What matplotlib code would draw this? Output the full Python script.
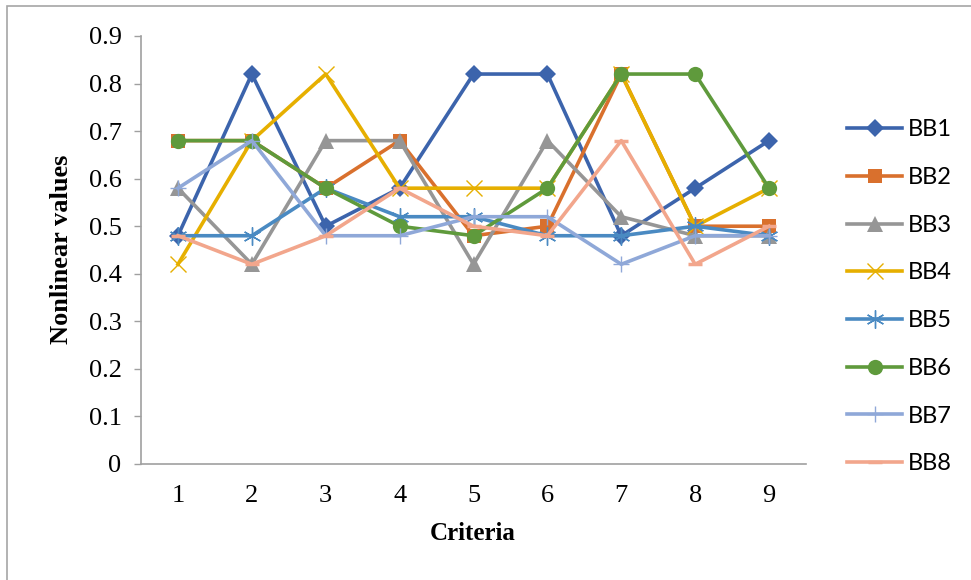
import matplotlib
matplotlib.use("Agg")
import matplotlib.pyplot as plt
from matplotlib.patches import Rectangle

criteria = [1, 2, 3, 4, 5, 6, 7, 8, 9]
series_names = ["BB1", "BB2", "BB3", "BB4", "BB5", "BB6", "BB7", "BB8"]

bb1 = [0.48, 0.82, 0.50, 0.58, 0.82, 0.82, 0.48, 0.58, 0.68]
bb2 = [0.68, 0.68, 0.58, 0.68, 0.48, 0.50, 0.82, 0.50, 0.50]
bb3 = [0.58, 0.42, 0.68, 0.68, 0.42, 0.68, 0.52, 0.48, 0.48]
bb4 = [0.42, 0.68, 0.82, 0.58, 0.58, 0.58, 0.82, 0.50, 0.58]
bb5 = [0.48, 0.48, 0.58, 0.52, 0.52, 0.48, 0.48, 0.50, 0.48]
bb6 = [0.68, 0.68, 0.58, 0.50, 0.48, 0.58, 0.82, 0.82, 0.58]
bb7 = [0.58, 0.68, 0.48, 0.48, 0.52, 0.52, 0.42, 0.48, 0.48]
bb8 = [0.48, 0.42, 0.48, 0.58, 0.50, 0.48, 0.68, 0.42, 0.50]

y_ticks = [0, 0.1, 0.2, 0.3, 0.4, 0.5, 0.6, 0.7, 0.8, 0.9]
y_tick_labels = ["0", "0.1", "0.2", "0.3", "0.4", "0.5", "0.6", "0.7", "0.8", "0.9"]

colors = ["#3C64AC", "#D9702D", "#969696", "#E6AF00",
          "#4A8AC2", "#5F9A3C", "#8FA8D8", "#F2A68C"]
styles = [
    dict(marker="D", markersize=9, markeredgewidth=0),
    dict(marker="s", markersize=10, markeredgewidth=0),
    dict(marker="^", markersize=11, markeredgewidth=0),
    dict(marker="x", markersize=11, markeredgewidth=1.0),
    dict(marker=(6, 2, 0), markersize=13, markeredgewidth=1.0),
    dict(marker="o", markersize=11, markeredgewidth=0),
    dict(marker="+", markersize=11, markeredgewidth=1.0),
    dict(marker="_", markersize=10, markeredgewidth=2.5),
]
all_series = [bb1, bb2, bb3, bb4, bb5, bb6, bb7, bb8]

fig = plt.figure(figsize=(9.71, 5.80), dpi=100)
fig.patch.set_facecolor("white")

# outer chart-area frame
fig.patches.append(Rectangle((7 / 971, -0.1), 1.2, 1.0 - 6 / 580 + 0.1,
                             transform=fig.transFigure, fill=False,
                             edgecolor="#A6A6A6", linewidth=1.2))

ax = fig.add_axes([141 / 971, 1 - 464 / 580, (806 - 141) / 971, (464 - 36) / 580])

handles = []
for name, vals, col, st in zip(series_names, all_series, colors, styles):
    ln, = ax.plot(criteria, vals, color=col, linewidth=2.6, markerfacecolor=col,
                  markeredgecolor=col, label=name, solid_joinstyle="round", **st)
    handles.append(ln)

ax.set_xlim(0.5, 9.5)
ax.set_ylim(0, 0.9)
ax.set_yticks(y_ticks)
ax.set_yticklabels(y_tick_labels)
ax.set_xticks(criteria)
ax.set_xticklabels([str(c) for c in criteria])

serif = ["Liberation Serif", "DejaVu Serif"]
for lab in ax.get_xticklabels() + ax.get_yticklabels():
    lab.set_fontfamily(serif)
    lab.set_fontsize(19)

ax.tick_params(axis="y", direction="out", length=5, width=1.0, color="#A0A0A0", pad=9)
ax.tick_params(axis="x", length=0, pad=15)

for side in ["top", "right"]:
    ax.spines[side].set_visible(False)
for side in ["left", "bottom"]:
    ax.spines[side].set_color("#A0A0A0")
    ax.spines[side].set_linewidth(1.2)

fig.text(62 / 971, 1 - 249 / 580, "Nonlinear values", rotation=90, ha="center", va="center",
         fontfamily=serif, fontweight="bold", fontsize=19)
fig.text(473 / 971, 1 - 534 / 580, "Criteria", ha="center", va="center",
         fontfamily=serif, fontweight="bold", fontsize=18)

leg = fig.legend(handles=handles, labels=series_names, loc="upper left",
                 bbox_to_anchor=(838 / 971, 1 - 110 / 580), frameon=False,
                 prop={"family": ["Lato", "DejaVu Sans"], "size": 17},
                 handlelength=2.3, handletextpad=0.25, labelspacing=1.13,
                 borderaxespad=0)

fig.savefig("out.png", dpi=100, facecolor="white")
